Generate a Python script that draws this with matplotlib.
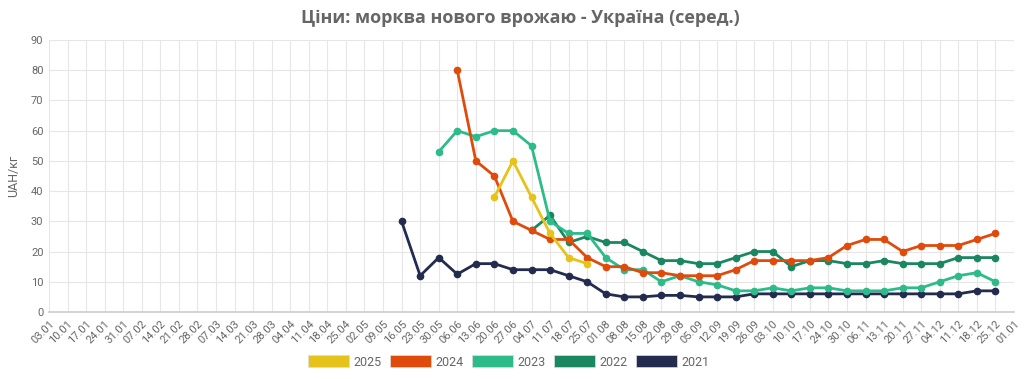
import numpy as np
import matplotlib
matplotlib.use("Agg")
import matplotlib.pyplot as plt
from matplotlib.patches import Patch

plt.rcParams['font.family'] = ['Roboto', 'DejaVu Sans']

# weekly category labels (x axis)
weeks = ["03.01", "10.01", "17.01", "24.01", "31.01", "07.02", "14.02", "21.02", "28.02",
         "07.03", "14.03", "21.03", "28.03", "04.04", "11.04", "18.04", "25.04", "02.05",
         "09.05", "16.05", "23.05", "30.05", "06.06", "13.06", "20.06", "27.06", "04.07",
         "11.07", "18.07", "25.07", "01.08", "08.08", "15.08", "22.08", "29.08", "05.09",
         "12.09", "19.09", "26.09", "03.10", "10.10", "17.10", "24.10", "30.10", "06.11",
         "13.11", "20.11", "27.11", "04.12", "11.12", "18.12", "25.12", "01.01"]

# series: (first week index, values)
start_2025 = 24
vals_2025 = [38, 50, 38, 26, 18, 16]
start_2024 = 22
vals_2024 = [80, 50, 45, 30, 27, 24, 24, 18, 15, 15, 13, 13, 12, 12, 12, 14, 17, 17, 17, 17,
             18, 22, 24, 24, 20, 22, 22, 22, 24, 26]
start_2023 = 21
vals_2023 = [53, 60, 58, 60, 60, 55, 30, 26, 26, 18, 14, 14, 10, 12, 10, 9, 7, 7, 8, 7,
             8, 8, 7, 7, 7, 8, 8, 10, 12, 13, 10]
start_2022 = 26
vals_2022 = [27, 32, 23, 25, 23, 23, 20, 17, 17, 16, 16, 18, 20, 20, 15, 17, 17, 16, 16, 17,
             16, 16, 16, 18, 18, 18]
start_2021 = 19
vals_2021 = [30, 12, 18, 12.5, 16, 16, 14, 14, 14, 12, 10, 6, 5, 5, 5.5, 5.5, 5, 5, 5, 6,
             6, 6, 6, 6, 6, 6, 6, 6, 6, 6, 6, 7, 7]

series = [
    ("2025", start_2025, vals_2025, "#E5C31A"),
    ("2024", start_2024, vals_2024, "#E04B0C"),
    ("2023", start_2023, vals_2023, "#2DBB8A"),
    ("2022", start_2022, vals_2022, "#1B8760"),
    ("2021", start_2021, vals_2021, "#232B4E"),
]

fig = plt.figure(figsize=(10.24, 3.79), dpi=100)
ax = fig.add_axes([49/1024, 67/379, (1014-49)/1024, (312-40)/379])

# draw oldest first so newer years sit on top
for name, s, v, c in reversed(series):
    x = np.arange(s, s + len(v))
    ax.plot(x, v, color=c, lw=2.0, marker="o", ms=4.5, zorder=3, solid_joinstyle="round")

ax.set_xlim(0, 52)
ax.set_ylim(0, 90)
ax.set_xticks(np.arange(len(weeks)))
ax.set_xticklabels(weeks, rotation=45, ha="right", rotation_mode="anchor")
ax.set_yticks(np.arange(0, 91, 10))
ax.tick_params(axis="both", colors="#666666", labelsize=8, length=0, pad=4)
ax.tick_params(axis="x", pad=5)
ax.grid(True, color="#e6e6e6", lw=0.8, zorder=0)
for sp in ["top", "right", "left"]:
    ax.spines[sp].set_visible(False)
ax.spines["bottom"].set_color("#cccccc")
ax.spines["bottom"].set_linewidth(1.2)

ax.set_ylabel("UAH/кг", color="#666666", fontsize=9, labelpad=8)

fig.text(0.508, 0.952, "Ціни: морква нового врожаю - Україна (серед.)", ha="center", va="center",
         fontsize=13, fontweight="bold", color="#666666", family="Open Sans")

handles = [Patch(facecolor=c, edgecolor="#dddddd", lw=0.5) for _, _, _, c in series]
labels = [n for n, _, _, _ in series]
fig.legend(handles, labels, loc="center", bbox_to_anchor=(0.497, 0.045), ncol=5, frameon=False,
           handlelength=3.3, handleheight=1.1, handletextpad=0.35, columnspacing=0.65,
           fontsize=9, labelcolor="#666666")

fig.savefig("out.png", dpi=100)
